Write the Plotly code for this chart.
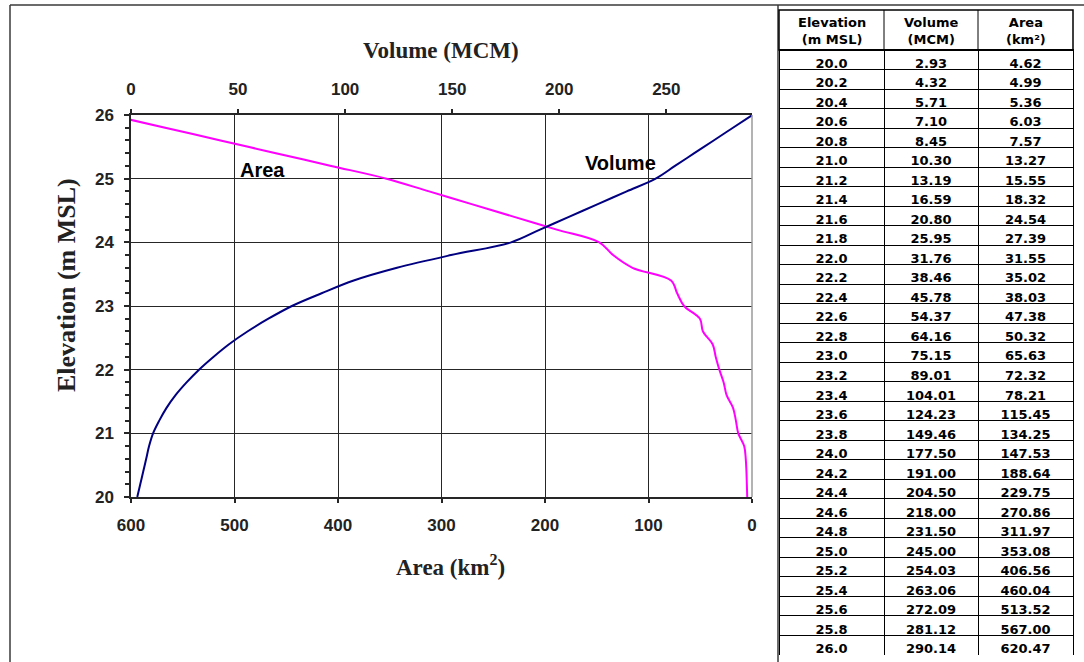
import plotly.graph_objects as go

# Elevation-capacity data of the reservoir
elevation = [20.0, 20.2, 20.4, 20.6, 20.8, 21.0, 21.2, 21.4, 21.6, 21.8,
             22.0, 22.2, 22.4, 22.6, 22.8, 23.0, 23.2, 23.4, 23.6, 23.8,
             24.0, 24.2, 24.4, 24.6, 24.8, 25.0, 25.2, 25.4, 25.6, 25.8, 26.0]
volume_mcm = [2.93, 4.32, 5.71, 7.10, 8.45, 10.30, 13.19, 16.59, 20.80, 25.95,
              31.76, 38.46, 45.78, 54.37, 64.16, 75.15, 89.01, 104.01, 124.23, 149.46,
              177.50, 191.00, 204.50, 218.00, 231.50, 245.00, 254.03, 263.06, 272.09, 281.12, 290.14]
area_km2 = [4.62, 4.99, 5.36, 6.03, 7.57, 13.27, 15.55, 18.32, 24.54, 27.39,
            31.55, 35.02, 38.03, 47.38, 50.32, 65.63, 72.32, 78.21, 115.45, 134.25,
            147.53, 188.64, 229.75, 270.86, 311.97, 353.08, 406.56, 460.04, 513.52, 567.00, 620.47]

table_headers = ["Elevation<br>(m MSL)", "Volume<br>(MCM)", "Area<br>(km²)"]
area_ticks = [600, 500, 400, 300, 200, 100, 0]
volume_ticks = [0, 50, 100, 150, 200, 250]
elev_ticks = [20, 21, 22, 23, 24, 25, 26]

W, H = 1084, 662
px = lambda x: x / W
py = lambda y: 1 - y / H

serif = "Liberation Serif"
sans = "Liberation Sans"
tfont = "DejaVu Sans"
grid = "#262626"

# table geometry (pixels)
tab_left, tab_right = 779, 1073
tab_top, head_bottom, tab_bottom = 10, 50, 655
col_w = [105, 94, 95]
col_edges = [tab_left]
for w in col_w:
    col_edges.append(col_edges[-1] + w * (tab_right - tab_left) / sum(col_w))

fig = go.Figure()

fig.add_trace(go.Scatter(
    x=area_km2, y=elevation, xaxis="x", yaxis="y", mode="lines",
    line=dict(color="#ff00ff", width=2, shape="spline", smoothing=1.0),
    name="Area", showlegend=False))
fig.add_trace(go.Scatter(
    x=volume_mcm, y=elevation, xaxis="x2", yaxis="y", mode="lines",
    line=dict(color="#000080", width=2, shape="spline", smoothing=1.0),
    name="Volume", showlegend=False))

# Body of the elevation / volume / area table (the two-line header is drawn separately)
fig.add_trace(go.Table(
    domain=dict(x=[px(tab_left), px(tab_right)], y=[py(tab_bottom), py(head_bottom - 1)]),
    columnwidth=col_w,
    header=dict(values=["", "", ""], height=1,
                fill=dict(color="white"), line=dict(color="black", width=1)),
    cells=dict(
        values=[[f"{e:.1f}" for e in elevation],
                [f"{v:.2f}" for v in volume_mcm],
                [f"{a:.2f}" for a in area_km2]],
        align="center", height=(tab_bottom - head_bottom) / len(elevation),
        line=dict(color="black", width=1), fill=dict(color="white"),
        font=dict(family=tfont, size=13, color="black", weight="bold")),
))

tickfont = dict(family=sans, size=17, color="#222", weight="bold")

shapes = [
    # frame around the chart
    dict(type="line", x0=px(10), x1=px(10), y0=0, y1=py(5)),
    dict(type="line", x0=px(10), x1=1, y0=py(5), y1=py(5)),
    dict(type="line", x0=px(778), x1=px(778), y0=0, y1=py(5)),
    # table header box
    dict(type="rect", x0=px(tab_left), x1=px(tab_right), y0=py(head_bottom), y1=py(tab_top),
         line=dict(color="black", width=1.5)),
]
for xe in col_edges[1:-1]:
    shapes.append(dict(type="line", x0=px(xe), x1=px(xe), y0=py(head_bottom), y1=py(tab_top),
                       line=dict(color="black", width=1)))
# right edge of the plot area
shapes.append(dict(type="line", x0=px(752), x1=px(752), y0=py(497), y1=py(115),
                   line=dict(color="#9a9a9a", width=1.5)))
for s in shapes:
    s.setdefault("xref", "paper")
    s.setdefault("yref", "paper")
    s.setdefault("line", dict(color="#3a3a3a", width=1.5))

annotations = [
    dict(text="<b>Volume (MCM)</b>", x=px(441), y=py(50),
         font=dict(family=serif, size=23, color="#222")),
    dict(text="<b>Area (km<sup>2</sup>)</b>", x=px(450), y=py(565),
         font=dict(family=serif, size=23, color="#222")),
    dict(text="<b>Elevation (m MSL)</b>", x=px(66), y=py(285), textangle=-90,
         font=dict(family=serif, size=26, color="#222")),
    dict(text="<b>Area</b>", x=px(262), y=py(170),
         font=dict(family=sans, size=20, color="black")),
    dict(text="<b>Volume</b>", x=px(620), y=py(163),
         font=dict(family=sans, size=20, color="black")),
]
for i, h in enumerate(table_headers):
    annotations.append(dict(text=h, x=px((col_edges[i] + col_edges[i + 1]) / 2),
                            y=py((tab_top + head_bottom) / 2 + 1),
                            font=dict(family=tfont, size=13, color="black", weight="bold")))
for a in annotations:
    a.update(xref="paper", yref="paper", showarrow=False, xanchor="center", yanchor="middle")

fig.update_layout(
    width=W, height=H,
    margin=dict(l=0, r=0, t=0, b=0, autoexpand=False),
    paper_bgcolor="white", plot_bgcolor="white",
    xaxis=dict(
        domain=[px(131), px(752)], range=[600, 0], automargin=False,
        tickvals=area_ticks, ticks="outside", ticklen=4, tickcolor=grid, tickwidth=1.5,
        ticklabelstandoff=8,
        showgrid=True, gridcolor=grid, gridwidth=1.3,
        showline=True, linecolor=grid, linewidth=1.5,
        zeroline=False, tickfont=tickfont, anchor="y"),
    xaxis2=dict(
        overlaying="x", side="top", range=[0, 290], automargin=False,
        tickvals=volume_ticks, ticks="outside", ticklen=4, tickcolor=grid, tickwidth=1.5,
        ticklabelstandoff=7,
        showgrid=False, showline=True, linecolor=grid, linewidth=1.5,
        zeroline=False, tickfont=tickfont, anchor="y"),
    yaxis=dict(
        domain=[py(497), py(115)], range=[20, 26], automargin=False,
        tickvals=elev_ticks, ticks="outside", ticklen=5, tickcolor=grid, tickwidth=1.5,
        minor=dict(dtick=0.2, ticks="outside", ticklen=4, tickcolor=grid, tickwidth=1.5,
                   showgrid=False),
        ticklabelstandoff=7,
        showgrid=True, gridcolor=grid, gridwidth=1.3,
        showline=True, linecolor=grid, linewidth=1.5,
        zeroline=False, tickfont=tickfont),
    shapes=shapes,
    annotations=annotations,
)

fig.write_html("out.html")
